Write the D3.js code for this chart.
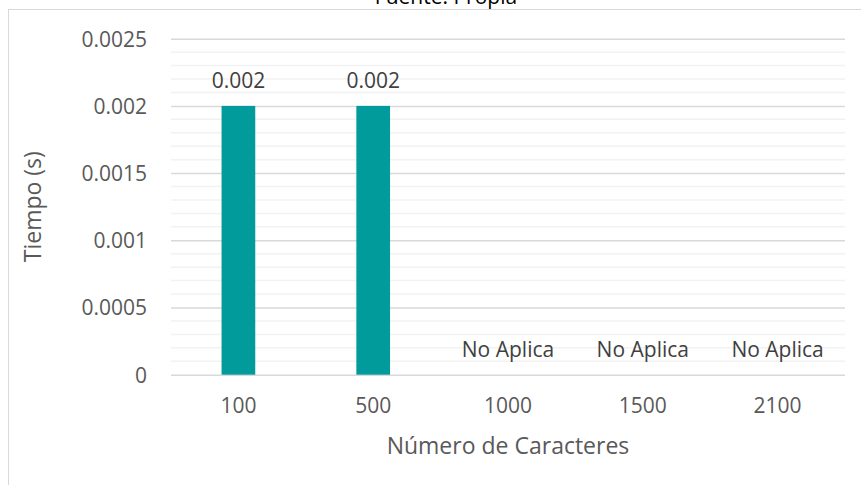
<!DOCTYPE html>
<html>
<head>
<meta charset="utf-8">
<script src="https://cdn.jsdelivr.net/npm/d3@7"></script>
<style>
  html, body { margin: 0; padding: 0; background: #fff; }
  svg { display: block; }
</style>
</head>
<body>
<svg id="chart" width="861" height="485"></svg>
<script>
// Execution time by input size
const categories = ["100", "500", "1000", "1500", "2100"];
const tiempos = [0.002, 0.002, null, null, null];
const etiquetas = ["0.002", "0.002", "No Aplica", "No Aplica", "No Aplica"];
const yTicks = [0, 0.0005, 0.001, 0.0015, 0.002, 0.0025];
const yTickLabels = ["0", "0.0005", "0.001", "0.0015", "0.002", "0.0025"];

const FONT = "'Open Sans', sans-serif";
const svg = d3.select("#chart");
const plot = { left: 171, right: 845, top: 38.7, bottom: 374.7 };

// Outer chart frame (extends past the page edge)
svg.append("rect")
  .attr("x", 8.5).attr("y", 9.5)
  .attr("width", 900).attr("height", 600)
  .attr("fill", "#fff").attr("stroke", "#d9d9d9").attr("stroke-width", 1);

// Title, partly clipped at the top
svg.append("text")
  .attr("x", 446).attr("y", 4)
  .attr("text-anchor", "middle")
  .attr("font-family", FONT).attr("font-size", 21)
  .attr("fill", "#000")
  .text("Fuente: Propia");

const x = d3.scaleBand()
  .domain(categories)
  .range([plot.left, plot.right])
  .paddingInner(0.75).paddingOuter(0.375);

const y = d3.scaleLinear()
  .domain([0, 0.0025])
  .range([plot.bottom, plot.top]);

// Minor gridlines
const minor = d3.range(1, 25).map(i => i * 0.0001).filter(v => Math.round(v * 10000) % 5 !== 0);
svg.append("g")
  .selectAll("line").data(minor).join("line")
  .attr("x1", plot.left).attr("x2", plot.right)
  .attr("y1", d => y(d)).attr("y2", d => y(d))
  .attr("stroke", "#f2f2f2").attr("stroke-width", 1.5);

// Major gridlines via axis
const yAxis = d3.axisLeft(y)
  .tickValues(yTicks)
  .tickSize(-(plot.right - plot.left))
  .tickFormat((d, i) => yTickLabels[i]);
const gy = svg.append("g")
  .attr("transform", `translate(${plot.left},0)`)
  .call(yAxis);
gy.select(".domain").remove();
gy.selectAll(".tick line").attr("stroke", "#d9d9d9").attr("stroke-width", 1.5);
gy.selectAll(".tick text")
  .attr("x", -24).attr("dy", "0.35em")
  .attr("font-family", FONT).attr("font-size", 21)
  .attr("fill", "#595959");

// Bars
svg.append("g")
  .selectAll("rect").data(categories.map((c, i) => ({ c, v: tiempos[i] })).filter(d => d.v !== null))
  .join("rect")
  .attr("x", d => x(d.c))
  .attr("width", x.bandwidth())
  .attr("y", d => y(d.v))
  .attr("height", d => y(0) - y(d.v))
  .attr("fill", "#009b9a");

// Data labels
svg.append("g")
  .selectAll("text").data(categories)
  .join("text")
  .attr("x", d => x(d) + x.bandwidth() / 2)
  .attr("y", (d, i) => y(tiempos[i] === null ? 0 : tiempos[i]) - 18)
  .attr("text-anchor", "middle")
  .attr("font-family", FONT).attr("font-size", 21)
  .attr("fill", "#404040")
  .text((d, i) => etiquetas[i]);

// X axis
const xAxis = d3.axisBottom(x).tickSize(0);
const gx = svg.append("g")
  .attr("transform", `translate(0,${plot.bottom})`)
  .call(xAxis);
gx.select(".domain").remove();
gx.selectAll(".tick text")
  .attr("y", 31).attr("dy", "0.35em")
  .attr("font-family", FONT).attr("font-size", 21)
  .attr("fill", "#595959");

// Axis titles
svg.append("text")
  .attr("x", (plot.left + plot.right) / 2).attr("y", 446)
  .attr("dy", "0.35em")
  .attr("text-anchor", "middle")
  .attr("font-family", FONT).attr("font-size", 23)
  .attr("fill", "#595959")
  .text("Número de Caracteres");

svg.append("text")
  .attr("transform", `translate(33,${(plot.top + plot.bottom) / 2}) rotate(-90)`)
  .attr("dy", "0.35em")
  .attr("text-anchor", "middle")
  .attr("font-family", FONT).attr("font-size", 23)
  .attr("fill", "#595959")
  .text("Tiempo (s)");
</script>
</body>
</html>
